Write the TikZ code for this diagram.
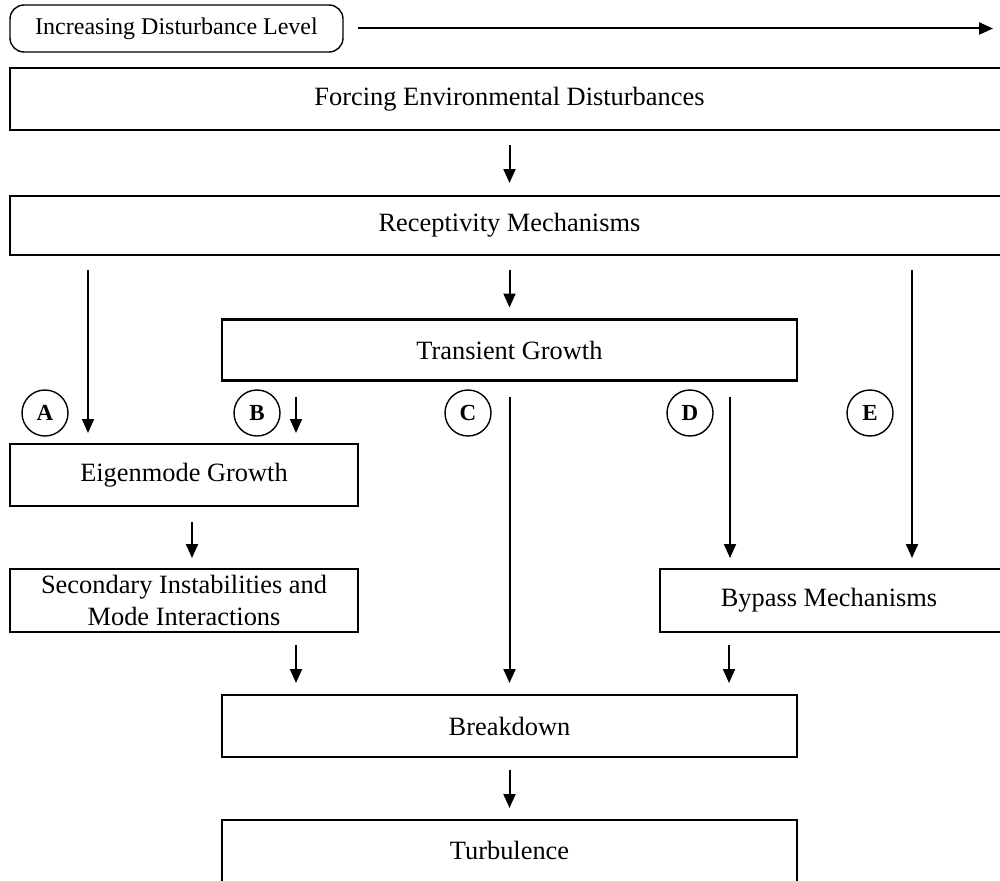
\documentclass[tikz,border=0pt]{standalone}
\usepackage{fontspec}
\setmainfont{Liberation Serif}
\usetikzlibrary{arrows.meta}
\begin{document}
\begin{tikzpicture}[x=1pt,y=-1pt,outer sep=0pt,
  box/.style={draw,line width=2.2pt,rectangle,inner sep=0pt,align=center,font=\fontsize{26.4}{32}\selectfont},
  boxtext/.style={font=\fontsize{26.4}{32}\selectfont},
  lvlbox/.style={draw,line width=1.4pt,rectangle,rounded corners=14pt,inner sep=0pt,font=\fontsize{24}{28}\selectfont},
  lbl/.style={draw,line width=1.4pt,circle,minimum size=46pt,inner sep=0pt,font=\fontsize{23}{26}\selectfont\bfseries},
  arr/.style={line width=2pt,-{Triangle[length=14pt,width=12pt]}}]
\useasboundingbox (0,0) rectangle (1000,880);
\node[lvlbox,minimum width=333pt,minimum height=47pt] (lvl) at (176.5,28.5) {Increasing Disturbance Level};
\coordinate (lvlend) at (993,28.5);
\node[box,minimum width=994pt,minimum height=62pt] (forcing) at (507,99) {};
\node[boxtext] at (509.5,99) {Forcing Environmental Disturbances};
\node[box,minimum width=994pt,minimum height=59pt] (recep) at (507,225.5) {};
\node[boxtext] at (509.5,225.5) {Receptivity Mechanisms};
\node[box,minimum width=575pt,minimum height=61pt] (trans) at (509.5,350) {Transient Growth};
\node[box,minimum width=348pt,minimum height=62pt] (eigen) at (184,475) {Eigenmode Growth};
\node[box,minimum width=348pt,minimum height=63pt] (second) at (184,600.5) {Secondary Instabilities and\\Mode Interactions};
\node[box,minimum width=344pt,minimum height=63pt] (bypass) at (832,600.5) {};
\node[boxtext] at (829,600.5) {Bypass Mechanisms};
\node[box,minimum width=575pt,minimum height=62pt] (brk) at (509.5,726) {Breakdown};
\node[box,minimum width=575pt,minimum height=80pt] (turb) at (509.5,860) {};
\node[boxtext] at (509.5,850) {Turbulence};
\node[lbl] (A) at (45,413) {A};
\node[lbl] (B) at (257,413) {B};
\node[lbl] (C) at (468,413) {C};
\node[lbl] (D) at (690,413) {D};
\node[lbl] (E) at (870,413) {E};
\draw[arr,shorten <=15pt] (lvl.east) -- (lvlend);
\draw[arr,shorten <=15pt,shorten >=13pt] (forcing.south -| trans.north) -- (recep.north -| trans.north);
\draw[arr,shorten <=15pt,shorten >=11pt] ([xshift=78pt]recep.south west) -- ([xshift=78pt]eigen.north west);
\draw[arr,shorten <=15pt,shorten >=12pt] (recep.south -| trans.north) -- (trans.north);
\draw[arr,shorten <=15pt,shorten >=11pt] ([xshift=-92pt]recep.south east) -- ([xshift=252pt]bypass.north west);
\draw[arr,shorten <=16pt,shorten >=11pt] ([xshift=74pt]trans.south west) -- ([xshift=286pt]eigen.north west);
\draw[arr,shorten <=16pt,shorten >=12pt] (trans.south) -- (brk.north);
\draw[arr,shorten <=16pt,shorten >=11pt] ([xshift=-67pt]trans.south east) -- ([xshift=70pt]bypass.north west);
\draw[arr,shorten <=16pt,shorten >=11pt] ([xshift=8pt]eigen.south) -- ([xshift=8pt]second.north);
\draw[arr,shorten <=13pt,shorten >=12pt] ([xshift=286pt]second.south west) -- ([xshift=74pt]brk.north west);
\draw[arr,shorten <=13pt,shorten >=12pt] ([xshift=69pt]bypass.south west) -- ([xshift=-68pt]brk.north east);
\draw[arr,shorten <=13pt,shorten >=12pt] (brk.south) -- (turb.north);
\end{tikzpicture}
\end{document}
